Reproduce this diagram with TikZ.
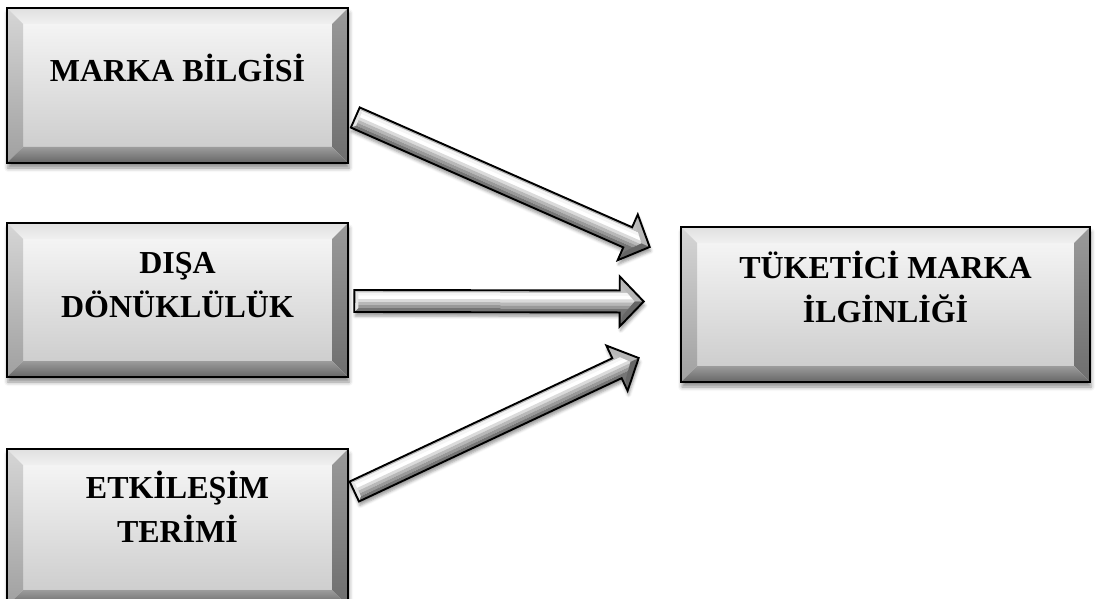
\documentclass[tikz,border=0pt]{standalone}
\usepackage{fontspec}
\setmainfont{Liberation Serif}
\usetikzlibrary{calc,shadows.blur}

\definecolor{faceT}{HTML}{F4F4F4}
\definecolor{faceB}{HTML}{CECECE}
\definecolor{topT}{HTML}{E0E0E0}
\definecolor{topB}{HTML}{F0F0F0}
\definecolor{leftT}{HTML}{D6D6D6}
\definecolor{leftB}{HTML}{A0A0A0}
\definecolor{rightT}{HTML}{9A9A9A}
\definecolor{rightB}{HTML}{6E6E6E}
\definecolor{botT}{HTML}{9C9C9C}
\definecolor{botB}{HTML}{666666}

\def\bevw{16pt}

\tikzset{
  bevelbox/.style n args={2}{
    draw=black, line width=2.6pt, inner sep=0pt,
    minimum width=#1pt, minimum height=#2pt, fill=faceT,
    blur shadow={shadow xshift=1pt, shadow yshift=-5pt,
                 shadow blur radius=4pt, shadow opacity=45},
    path picture={
      \path (path picture bounding box.north west) coordinate (pNW)
            (path picture bounding box.north east) coordinate (pNE)
            (path picture bounding box.south west) coordinate (pSW)
            (path picture bounding box.south east) coordinate (pSE);
      \path ($(pNW)+(\bevw,-\bevw)$) coordinate (qNW)
            ($(pNE)+(-\bevw,-\bevw)$) coordinate (qNE)
            ($(pSW)+(\bevw,\bevw)$) coordinate (qSW)
            ($(pSE)+(-\bevw,\bevw)$) coordinate (qSE);
      \shade[top color=faceT, bottom color=faceB] (qNW) rectangle (qSE);
      \shade[top color=topT, bottom color=topB]
        (pNW) -- (pNE) -- (qNE) -- (qNW) -- cycle;
      \shade[top color=leftT, bottom color=leftB]
        (pNW) -- (qNW) -- (qSW) -- (pSW) -- cycle;
      \shade[top color=rightT, bottom color=rightB]
        (pNE) -- (pSE) -- (qSE) -- (qNE) -- cycle;
      \shade[top color=botT, bottom color=botB]
        (pSW) -- (qSW) -- (qSE) -- (pSE) -- cycle;
    }},
  boxtext/.style={anchor=base, inner sep=0pt,
    font=\fontsize{32}{44}\selectfont\bfseries}
}

% 3D block arrow from coordinate #1 (tail) to coordinate #2 (tip)
\newcommand\blockarrow[2]{%
  \path (#1); \pgfgetlastxy{\arax}{\aray}%
  \path (#2); \pgfgetlastxy{\arbx}{\arby}%
  \pgfmathsetmacro\arang{atan2(\arby-\aray,\arbx-\arax)}%
  \pgfmathsetmacro\arlen{veclen(\arbx-\arax,\arby-\aray)}%
  \pgfmathsetmacro\arbase{\arlen-24}%
  \begin{scope}[shift={(#1)}, rotate=\arang]
    \def\arout{(0pt,11pt) -- (\arbase pt,11pt) -- (\arbase pt,25pt)
      -- (\arlen pt,0pt) -- (\arbase pt,-25pt) -- (\arbase pt,-11pt)
      -- (0pt,-11pt) -- cycle}
    \fill[white, blur shadow={shadow xshift=1pt, shadow yshift=-4pt,
          shadow blur radius=3pt, shadow opacity=40}] \arout;
    \begin{scope}
      \clip \arout;
      \foreach \yt/\yb/\gp in {26/8.5/25, 8.5/5.5/4, 5.5/2/0, 2/-1/14,
                               -1/-4/28, -4/-7/40, -7/-26/54}
        \fill[black!\gp] (-2pt,\yt pt) rectangle (\arlen pt+2pt,\yb pt);
      % bevel facets of the head and the tail
      \fill[black!28] (\arbase pt,25pt) -- (\arlen pt,0pt)
        -- (\arlen pt-9pt,0pt) -- (\arbase pt+3pt,14pt) -- cycle;
      \fill[black!60] (\arbase pt,-25pt) -- (\arlen pt,0pt)
        -- (\arlen pt-9pt,0pt) -- (\arbase pt+3pt,-14pt) -- cycle;
      \fill[black!10] (0pt,11pt) -- (4pt,7pt) -- (4pt,-7pt) -- (0pt,-11pt) -- cycle;
    \end{scope}
    \draw[line width=1.9pt, line join=miter] \arout;
  \end{scope}}

\begin{document}
\begin{tikzpicture}[x=1pt, y=-1pt]
  \useasboundingbox (0,0) rectangle (1096,599);
  \clip (0,0) rectangle (1096,599);

  % source boxes
  \node[bevelbox={341}{155}] (b1) at (177.5,85.5) {};
  \node[bevelbox={341}{154}] (b2) at (177.5,300) {};
  \node[bevelbox={341}{157}] (b3) at (177.5,527.5) {};
  % target box
  \node[bevelbox={409}{155}] (r) at (885.5,304.5) {};

  % labels
  \node[boxtext] (t1)  at (177.5,82)  {MARKA BİLGİSİ};
  \node[boxtext] (t2a) at (177.5,273) {DIŞA};
  \node[boxtext] (t2b) at (177.5,317) {DÖNÜKLÜLÜK};
  \node[boxtext] (t3a) at (177.5,498) {ETKİLEŞİM};
  \node[boxtext] (t3b) at (177.5,542) {TERİMİ};
  \node[boxtext] (tra) at (885.5,278) {TÜKETİCİ MARKA};
  \node[boxtext] (trb) at (885.5,322) {İLGİNLİĞİ};

  % arrow ends
  \coordinate (a1s) at ($(b1.east)+(6,32)$);
  \coordinate (a1e) at ($(r.west)+(-30,-57.5)$);
  \coordinate (a2s) at ($(b2.east)+(5,1)$);
  \coordinate (a2e) at ($(r.west)+(-36,-3)$);
  \coordinate (a3s) at ($(b3.east)+(5,-36)$);
  \coordinate (a3e) at ($(r.west)+(-41,53.5)$);

  \blockarrow{a1s}{a1e}
  \blockarrow{a2s}{a2e}
  \blockarrow{a3s}{a3e}
\end{tikzpicture}
\end{document}
